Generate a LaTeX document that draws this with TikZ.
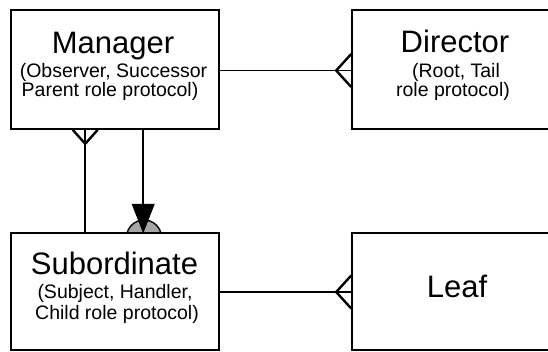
\documentclass[tikz,border=0pt]{standalone}
\usepackage{fontspec}
\setmainfont{Liberation Sans}
\usetikzlibrary{calc}
\tikzset{
  box/.style={draw=black, line width=1.6pt, fill=white, rectangle, inner sep=0pt},
  conn/.style={draw=black, line width=1.9pt},
  crow/.style={draw=black, line width=2.4pt, line join=miter},
  ttl/.style={anchor=base, inner sep=0pt, font=\fontsize{31}{31}\selectfont},
  sub/.style={anchor=base, inner sep=0pt, font=\fontsize{19.5}{19.5}\selectfont},
}
\begin{document}
\begin{tikzpicture}[x=1pt, y=-1pt]
\useasboundingbox (0,0) rectangle (548,351);
\clip (0,0) rectangle (548,351);
% gray circle behind subordinate box
\coordinate (cc) at (144,237.5);
\filldraw[fill=black!35, draw=black, line width=1.4pt] (cc) circle[radius=17.5pt];
% boxes
\node[box, minimum width=208pt, minimum height=119pt] (Manager) at (115,69.5) {};
\node[box, minimum width=206pt, minimum height=119pt] (Director) at (455,69.5) {};
\node[box, minimum width=208pt, minimum height=117pt] (Subordinate) at (115,291.5) {};
\node[box, minimum width=206pt, minimum height=117pt] (Leaf) at (455,291.5) {};
% texts
\node[ttl] (mt) at (113,53.3) {Manager};
\node[sub] (m1) at (113.5,77.5) {(Observer, Successor};
\node[sub] (m2) at (110,96.5) {Parent role protocol)};
\node[ttl] (dt) at (455,52.5) {Director};
\node[sub] (d1) at (456,77.3) {(Root, Tail};
\node[sub] (d2) at (453,96.3) {role protocol)};
\node[ttl] (st) at (114.5,274.3) {Subordinate};
\node[sub] (s1) at (115,298.3) {(Subject, Handler,};
\node[sub] (s2) at (117,319) {Child role protocol)};
\node[ttl] (lt) at (457,297) {Leaf};
% Manager -- Director
\coordinate (dw) at ($(Director.west)+(0,1)$);
\draw[conn] (Manager.east |- dw) -- (dw);
\draw[crow] ($(dw)+(0,-16.5)$) -- ($(dw)+(-15,0)$) -- ($(dw)+(0,16.5)$);
% Subordinate -- Leaf
\coordinate (lw) at ($(Leaf.west)+(0,0.5)$);
\draw[conn] (Subordinate.east |- lw) -- (lw);
\draw[crow] ($(lw)+(0,-16.5)$) -- ($(lw)+(-15,0)$) -- ($(lw)+(0,16.5)$);
% Manager -- Subordinate (left, crow's foot at Manager)
\coordinate (lt1) at ($(Manager.south west)+(75,0)$);
\coordinate (lb1) at ($(Subordinate.north west)+(75,0)$);
\draw[conn] (lt1) -- (lb1);
\draw[crow] ($(lt1)+(-12.5,0)$) -- ($(lt1)+(0,14)$) -- ($(lt1)+(12.5,0)$);
% Manager -- Subordinate (right, arrow to Subordinate)
\coordinate (rt1) at ($(Manager.south west)+(133,0)$);
\coordinate (rb1) at ($(Subordinate.north west)+(133,0)$);
\draw[conn] (rt1) -- ($(rb1)+(0,-28)$);
\filldraw[fill=black, draw=black, line width=0.8pt, line join=miter]
  ($(rb1)+(-11,-28)$) -- ($(rb1)+(11,-28)$) -- (rb1) -- cycle;
\end{tikzpicture}
\end{document}
